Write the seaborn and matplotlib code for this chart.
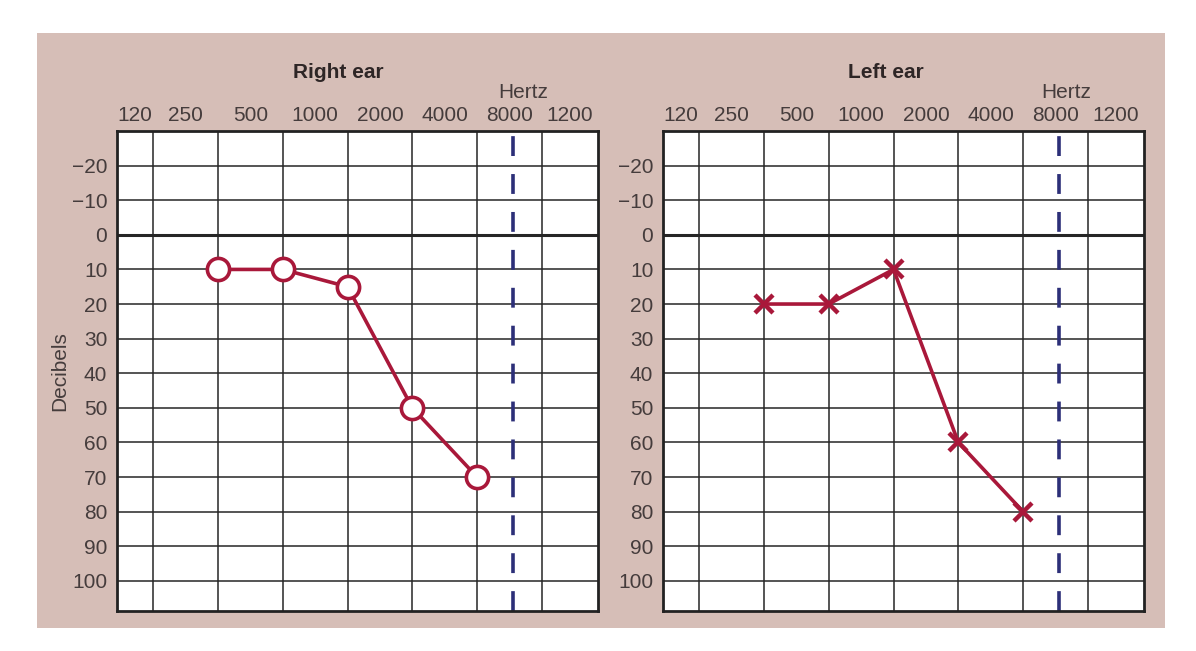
import matplotlib
matplotlib.use("Agg")
import matplotlib.pyplot as plt
from matplotlib.patches import Rectangle
import seaborn as sns
import pandas as pd

# ---- data ----
freq_labels = ["120", "250", "500", "1000", "2000", "4000", "8000", "1200"]
test_columns = [2, 3, 4, 5, 6]          # grid lines where the tones were tested
right_ear_db = [10, 10, 15, 50, 70]
left_ear_db = [20, 20, 10, 60, 80]
db_ticks = [-20, -10, 0, 10, 20, 30, 40, 50, 60, 70, 80, 90, 100]
cutoff_column = 6.55                    # dashed reference line

sns.set_theme(style="white")
plt.rcParams["font.family"] = ["Liberation Sans", "DejaVu Sans"]

BG = "#d6beb7"
RED = "#a9183a"
NAVY = "#2c2f78"
TXT = "#453c3c"

fig = plt.figure(figsize=(11.96, 6.51), dpi=100)
fig.patch.set_facecolor("white")
fig.patches.append(Rectangle((37 / 1196, 1 - 628 / 651), 1128 / 1196, 595 / 651,
                             transform=fig.transFigure, facecolor=BG,
                             edgecolor="none", zorder=-10))

ax_w = 481 / 1196
ax_h = 480 / 651
ax_b = 1 - 611 / 651
axR = fig.add_axes([117 / 1196, ax_b, ax_w, ax_h])
axL = fig.add_axes([663 / 1196, ax_b, ax_w, ax_h])

xmin, xmax = 0.444, 7.864
ymin, ymax = -30, 108.7
label_pos = [(xmin + 1) / 2] + [i + 0.5 for i in range(1, 7)] + [(7 + xmax) / 2]

def setup(ax):
    ax.set_facecolor("white")
    ax.set_xlim(xmin, xmax)
    ax.set_ylim(ymax, ymin)
    for x in range(1, 8):
        ax.axvline(x, color="#262626", lw=1.1, zorder=1)
    for y in db_ticks:
        ax.axhline(y, color="#262626", lw=2.2 if y == 0 else 1.1, zorder=1)
    ax.axvline(cutoff_column, color=NAVY, lw=2.6, linestyle=(0, (5.5, 5)), zorder=2)
    ax.xaxis.tick_top()
    ax.set_xticks(label_pos)
    ax.set_xticklabels(freq_labels)
    ax.set_yticks(db_ticks)
    ax.set_yticklabels([("\u2212" + str(-v)) if v < 0 else str(v) for v in db_ticks])
    ax.tick_params(axis="x", length=0, labelsize=15, labelcolor=TXT, pad=4)
    ax.tick_params(axis="y", length=0, labelsize=15, labelcolor=TXT, pad=7)
    for s in ax.spines.values():
        s.set_visible(True)
        s.set_color("#222222")
        s.set_linewidth(2)

setup(axR)
setup(axL)

dfR = pd.DataFrame({"col": test_columns, "db": right_ear_db})
dfL = pd.DataFrame({"col": test_columns, "db": left_ear_db})

sns.lineplot(data=dfR, x="col", y="db", ax=axR, color=RED, lw=2.6,
             marker="o", markersize=16, markerfacecolor="white",
             markeredgecolor=RED, markeredgewidth=2.6, zorder=5)
sns.lineplot(data=dfL, x="col", y="db", ax=axL, color=RED, lw=2.6,
             marker="x", markersize=13, markeredgecolor=RED,
             markeredgewidth=3.2, zorder=5)
for ax in (axR, axL):
    ax.set_xlim(xmin, xmax)
    ax.set_ylim(ymax, ymin)
    ax.set_xlabel("")
    ax.set_ylabel("")

fig.text(338 / 1196, 1 - 73 / 651, "Right ear", ha="center", va="center",
         fontsize=15, fontweight="bold", color="#2e2626")
fig.text(886 / 1196, 1 - 73 / 651, "Left ear", ha="center", va="center",
         fontsize=15, fontweight="bold", color="#2e2626")
fig.text(523 / 1196, 1 - 92 / 651, "Hertz", ha="center", va="center",
         fontsize=15, color=TXT)
fig.text(1066 / 1196, 1 - 92 / 651, "Hertz", ha="center", va="center",
         fontsize=15, color=TXT)
fig.text(60 / 1196, 1 - 371 / 651, "Decibels", ha="center", va="center",
         rotation=90, fontsize=15, color=TXT)

fig.savefig("out.png", dpi=100, facecolor="white")
